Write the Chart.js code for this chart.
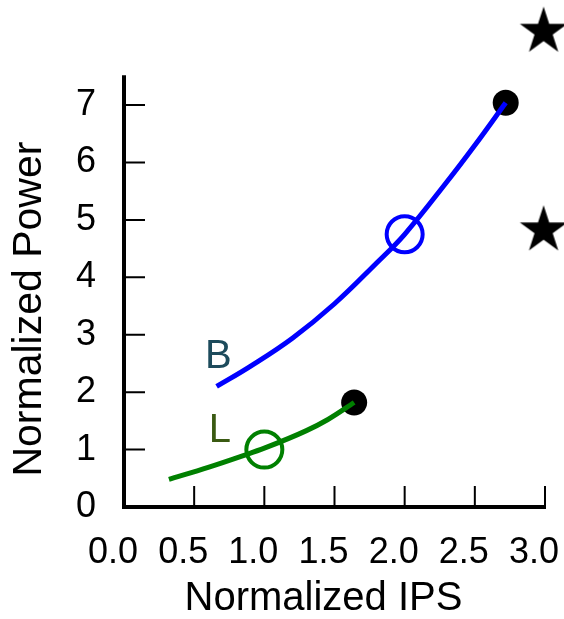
<!DOCTYPE html>
<html>
<head>
<meta charset="utf-8">
<script src="https://cdn.jsdelivr.net/npm/chart.js@4.4.1/dist/chart.umd.min.js"></script>
<style>
html,body{margin:0;padding:0;background:#ffffff;}
#wrap{width:564px;height:619px;}
</style>
</head>
<body>
<div id="wrap"><canvas id="c" width="564" height="619"></canvas></div>
<script>
// ---- Data ----
const bigIPS      = [0.66, 0.90, 1.20, 1.50, 1.80, 2.00, 2.30, 2.50, 2.72];
const bigPower    = [2.10, 2.45, 2.94, 3.54, 4.25, 4.75, 5.66, 6.30, 7.04];
const littleIPS   = [0.32, 0.60, 0.85, 1.00, 1.30, 1.45, 1.64];
const littlePower = [0.48, 0.69, 0.895, 1.025, 1.33, 1.52, 1.82];
const openIPS     = [2.00, 1.00];   // open circles (B, L)
const openPower   = [4.75, 1.00];
const dotIPS      = [2.72, 1.64];   // filled black end dots (B, L)
const dotPower    = [7.04, 1.82];
const starIPS     = [2.99, 2.99];
const starPower   = [8.28, 4.82];
const curveNames  = ['B', 'L'];
const nameIPS     = [0.672, 0.684];
const namePower   = [2.62, 1.33];
const xTickStep = 0.5, yTickStep = 1;
const yAxisTop = 7.52;   // where the drawn y axis line ends
const yRangeMax = 8.83;  // plotting range (room for the upper star)

const FONT = "'Liberation Sans', Arial, Helvetica, sans-serif";
const toXY = (xs, ys) => xs.map((x, i) => ({x: x, y: ys[i]}));

function makeStar(R) {
  const s = Math.ceil(R * 2 + 2);
  const c = document.createElement('canvas');
  c.width = s; c.height = s;
  const g = c.getContext('2d');
  g.translate(s / 2, s / 2);
  g.beginPath();
  for (let i = 0; i < 10; i++) {
    const r = i % 2 === 0 ? R : R * 0.382;
    const a = -Math.PI / 2 + i * Math.PI / 5;
    g.lineTo(r * Math.cos(a), r * Math.sin(a));
  }
  g.closePath();
  g.fillStyle = '#000';
  g.fill();
  return c;
}
const starImg = makeStar(25);

const axisAndTicks = {
  id: 'axisAndTicks',
  beforeDatasetsDraw(chart) {
    const {ctx, chartArea: a, scales: {x, y}} = chart;
    ctx.save();
    ctx.strokeStyle = '#000';
    ctx.lineWidth = 4;
    ctx.beginPath();
    ctx.moveTo(x.getPixelForValue(0), y.getPixelForValue(0) + 2);
    ctx.lineTo(x.getPixelForValue(0), y.getPixelForValue(yAxisTop));
    ctx.stroke();
    ctx.lineWidth = 2;
    ctx.beginPath();
    x.ticks.forEach(t => {
      if (t.value <= 0) return;
      const px = x.getPixelForValue(t.value);
      ctx.moveTo(px, a.bottom); ctx.lineTo(px, a.bottom - 21);
    });
    y.ticks.forEach(t => {
      if (t.value <= 0) return;
      const py = y.getPixelForValue(t.value);
      ctx.moveTo(a.left, py); ctx.lineTo(a.left + 21, py);
    });
    ctx.stroke();
    ctx.restore();
  }
};

const nameColors = ['#1d4b5c', '#3a5a12'];
const curveLabels = {
  id: 'curveLabels',
  afterDatasetsDraw(chart) {
    const {ctx, scales: {x, y}} = chart;
    ctx.save();
    ctx.font = '40px ' + FONT;
    ctx.textAlign = 'center';
    ctx.textBaseline = 'middle';
    curveNames.forEach((n, i) => {
      ctx.fillStyle = nameColors[i];
      ctx.fillText(n, x.getPixelForValue(nameIPS[i]), y.getPixelForValue(namePower[i]));
    });
    ctx.restore();
  }
};

const titleShift = {
  id: 'titleShift',
  beforeDraw(chart) {
    const yMid = (chart.scales.y.getPixelForValue(0) + chart.scales.y.getPixelForValue(yAxisTop)) / 2;
    const yShift = yMid - (chart.chartArea.top + chart.chartArea.bottom) / 2 + 18;
    [['x', -11, 0], ['y', 0, yShift]].forEach(([id, dx, dy]) => {
      const s = chart.scales[id];
      if (!s) return;
      s._titleShift = [dx, dy];
      if (s._shifted) return;
      const orig = s.drawTitle;
      s.drawTitle = function () {
        this.ctx.save();
        this.ctx.translate(this._titleShift[0], this._titleShift[1]);
        orig.call(this);
        this.ctx.restore();
      };
      s._shifted = true;
    });
  }
};

new Chart(document.getElementById('c'), {
  type: 'scatter',
  data: {
    datasets: [
      {
        data: toXY(bigIPS, bigPower), showLine: true, borderColor: '#0000ff', borderWidth: 5,
        pointRadius: 0, tension: 0.4, fill: false, clip: false
      },
      {
        data: toXY(littleIPS, littlePower), showLine: true, borderColor: '#008000', borderWidth: 5,
        pointRadius: 0, cubicInterpolationMode: 'monotone', fill: false, clip: false
      },
      {
        data: toXY(openIPS, openPower), pointRadius: 18, borderWidth: 4,
        pointBorderColor: ['#0000ff', '#008000'], pointBackgroundColor: 'rgba(0,0,0,0)', clip: false
      },
      {
        data: toXY(dotIPS, dotPower), pointRadius: 13, borderWidth: 0,
        pointBackgroundColor: '#000', pointBorderColor: '#000', clip: false
      },
      {
        data: toXY(starIPS, starPower), pointStyle: starImg, pointRadius: 25, clip: false
      }
    ]
  },
  options: {
    responsive: false,
    animation: false,
    events: [],
    layout: {autoPadding: false, padding: {top: 0, right: 19, bottom: 0, left: 0}},
    plugins: {legend: {display: false}, tooltip: {enabled: false}},
    scales: {
      x: {
        type: 'linear', min: 0, max: 3,
        grid: {display: false},
        border: {display: true, color: '#000', width: 4},
        ticks: {
          stepSize: xTickStep, autoSkip: false, maxRotation: 0, minRotation: 0,
          labelOffset: -11, padding: 16, color: '#000',
          font: {family: FONT, size: 36},
          callback: v => Number(v).toFixed(1)
        },
        title: {
          display: true, text: 'Normalized IPS', color: '#000',
          font: {family: FONT, size: 40, lineHeight: 1.0}, padding: {top: 0, bottom: 0}
        },
        afterFit(s) { s.height = 112; s.paddingLeft = 0; s.paddingRight = 0; }
      },
      y: {
        type: 'linear', min: 0, max: yRangeMax,
        grid: {display: false},
        border: {display: false},
        ticks: {
          stepSize: yTickStep, includeBounds: false, padding: 20, color: '#000',
          font: {family: FONT, size: 36},
          callback: v => (Number.isInteger(v) ? String(v) : null)
        },
        afterBuildTicks(s) { s.ticks = s.ticks.filter(t => t.value <= yAxisTop); },
        title: {
          display: true, text: 'Normalized Power', color: '#000',
          font: {family: FONT, size: 41}, padding: {top: 5, bottom: 0}
        },
        afterFit(s) { s.width = 124; s.paddingTop = 0; s.paddingBottom = 0; }
      }
    }
  },
  plugins: [axisAndTicks, curveLabels, titleShift]
});
</script>
</body>
</html>
